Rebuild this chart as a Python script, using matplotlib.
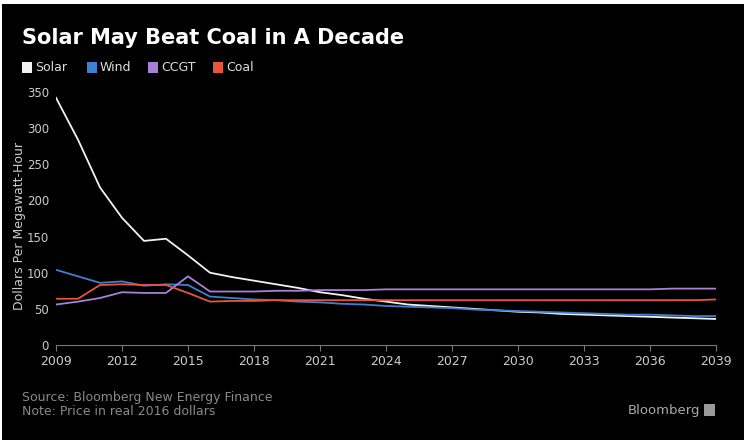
import matplotlib.pyplot as plt
import matplotlib.patches as patches

years = list(range(2009, 2040))

solar = [342, 284, 218, 176, 144, 147, 124, 100, 94, 89, 84, 79, 73, 69, 64, 60,
         56, 54, 52, 50, 48, 46, 45, 43, 42, 41, 40, 39, 38, 37, 36]
wind = [104, 95, 86, 88, 82, 84, 83, 67, 65, 63, 62, 60, 59, 57, 56, 54,
        53, 52, 51, 49, 48, 47, 46, 45, 44, 43, 42, 42, 41, 40, 40]
ccgt = [56, 60, 65, 73, 72, 72, 95, 74, 74, 74, 75, 75, 76, 76, 76, 77,
        77, 77, 77, 77, 77, 77, 77, 77, 77, 77, 77, 77, 78, 78, 78]
coal = [64, 64, 83, 84, 83, 83, 72, 60, 61, 61, 62, 62, 62, 62, 62, 62,
        62, 62, 62, 62, 62, 62, 62, 62, 62, 62, 62, 62, 62, 62, 63]

series = ["Solar", "Wind", "CCGT", "Coal"]
colors = ["#f2f2f2", "#3f7fd0", "#a97fd8", "#e8553d"]
xticks = list(range(2009, 2040, 3))
yticks = [0, 50, 100, 150, 200, 250, 300, 350]

fig = plt.figure(figsize=(7.44, 4.40), dpi=100)
fig.patch.set_facecolor("black")

# thin white border on top and left, as in the screenshot
fig.patches.append(patches.Rectangle((0, 1 - 4 / 440), 1, 4 / 440, transform=fig.transFigure,
                                     facecolor="white", edgecolor="none"))
fig.patches.append(patches.Rectangle((0, 0), 2 / 744, 1, transform=fig.transFigure,
                                     facecolor="white", edgecolor="none"))

ax = fig.add_axes([56 / 744, 1 - 345 / 440, 660 / 744, 253 / 440])
ax.set_facecolor("black")

for name, vals, c in zip(series, [solar, wind, ccgt, coal], colors):
    ax.plot(years, vals, color=c, lw=1.3, label=name)

ax.set_xlim(2009, 2039)
ax.set_ylim(0, 350)
ax.set_xticks(xticks)
ax.set_yticks(yticks)
ax.tick_params(axis="x", colors="#777777", labelcolor="#cccccc", length=4, labelsize=9, pad=3)
ax.tick_params(axis="y", length=0, labelcolor="#cccccc", labelsize=8.5, pad=5)
for s in ["top", "right", "left"]:
    ax.spines[s].set_visible(False)
ax.spines["bottom"].set_color("#777777")
ax.set_ylabel("Dollars Per Megawatt-Hour", color="#cccccc", fontsize=9)
ax.yaxis.set_label_coords(-30 / 660, 0.47)

# title
fig.text(22 / 744, 1 - 38 / 440, "Solar May Beat Coal in A Decade", color="white",
         fontsize=15, fontweight="bold", va="center", ha="left")

# legend
leg_x = [22, 87, 148, 213]
for x, name, c in zip(leg_x, series, colors):
    fig.patches.append(patches.Rectangle((x / 744, 1 - 73 / 440), 10 / 744, 11 / 440,
                                         transform=fig.transFigure, facecolor=c, edgecolor="none"))
    fig.text((x + 13) / 744, 1 - 67.5 / 440, name, color="#dddddd", fontsize=9,
             va="center", ha="left")

# footer
fig.text(22 / 744, 1 - 397 / 440, "Source: Bloomberg New Energy Finance", color="#8a8a8a",
         fontsize=9, va="center", ha="left")
fig.text(22 / 744, 1 - 411 / 440, "Note: Price in real 2016 dollars", color="#8a8a8a",
         fontsize=9, va="center", ha="left")
fig.text(700 / 744, 1 - 410 / 440, "Bloomberg", color="#aaaaaa", fontsize=9.5,
         va="center", ha="right")
fig.patches.append(patches.Rectangle((704 / 744, 1 - 416 / 440), 11 / 744, 12 / 440,
                                     transform=fig.transFigure, facecolor="#999999",
                                     edgecolor="none"))

fig.savefig("out.png", dpi=100, facecolor=fig.get_facecolor())
